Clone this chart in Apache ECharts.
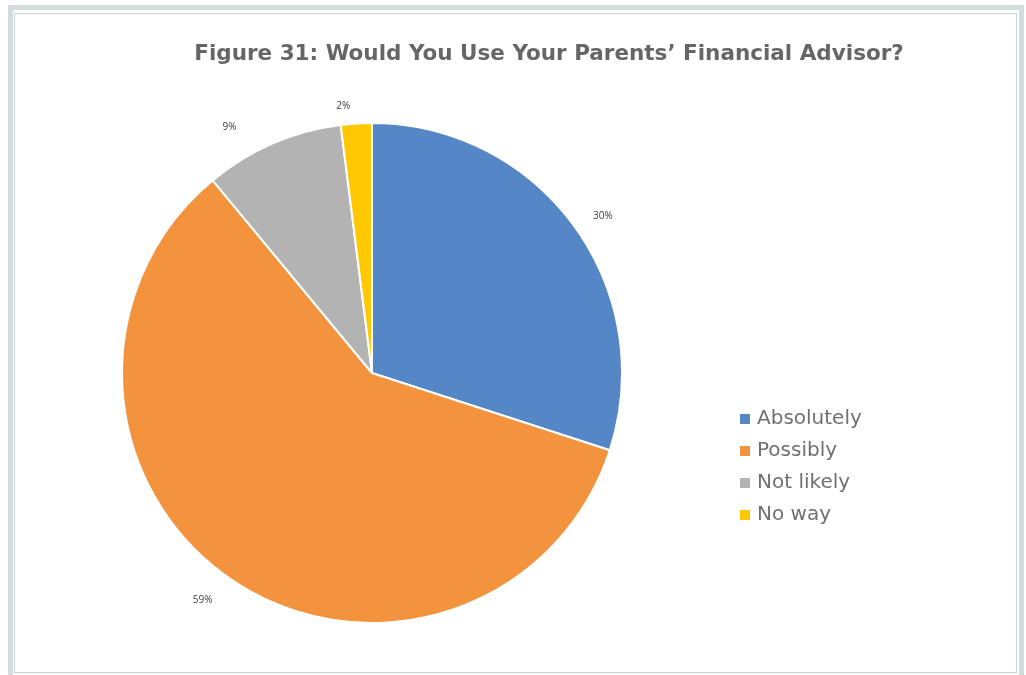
<!DOCTYPE html>
<html>
<head>
<meta charset="utf-8">
<script src="https://cdn.jsdelivr.net/npm/echarts@6/dist/echarts.min.js"></script>
<style>
  html, body { margin: 0; padding: 0; background: #fff; }
  #wrap { position: relative; width: 1026px; height: 675px; overflow: hidden; }
  #outer { position: absolute; left: 8px; top: 5px; width: 1016px; height: 700px; box-sizing: border-box; border: 5px solid #d2dcdc; }
  #inner { position: absolute; left: 14px; top: 13px; width: 1003px; height: 660px; box-sizing: border-box; border: 1.5px solid #c9d5d5; }
  #chart { position: absolute; left: 0; top: 0; width: 1026px; height: 675px; }
</style>
</head>
<body>
<div id="wrap">
  <div id="outer"></div>
  <div id="inner"></div>
  <div id="chart"></div>
</div>
<script>
const titleText = "Figure 31: Would You Use Your Parents\u2019 Financial Advisor?";
const categories = ["Absolutely", "Possibly", "Not likely", "No way"];
const values = [30, 59, 9, 2];
const colors = ["#5586c5", "#f3933e", "#b3b3b3", "#ffc800"];

const chart = echarts.init(document.getElementById('chart'), null, { renderer: 'canvas' });
const itemLabelLines = { "Possibly": { length: 25, length2: 0 }, "Not likely": { length: 18, length2: 24 } };
chart.setOption({
  animation: false,
  backgroundColor: 'transparent',
  color: colors,
  title: {
    text: titleText,
    left: 544, top: 38.5, textAlign: 'center',
    textStyle: { fontFamily: 'DejaVu Sans', fontSize: 21.5, fontWeight: 'bold', color: '#666666' }
  },
  legend: {
    orient: 'vertical',
    left: 738, top: 409, padding: 0,
    itemWidth: 12, itemHeight: 12, itemGap: 12,
    icon: 'rect',
    data: categories,
    textStyle: { fontFamily: 'DejaVu Sans', fontSize: 20, fontWeight: 'normal', color: '#707070', padding: [0, 0, 0, 1] }
  },
  series: [{
    type: 'pie',
    center: [372, 373],
    radius: [0, 250],
    startAngle: 90,
    clockwise: true,
    avoidLabelOverlap: false,
    itemStyle: { borderColor: '#fff', borderWidth: 2 },
    label: {
      show: true, position: 'outside',
      formatter: '{c}%',
      fontFamily: 'Open Sans', fontSize: 10, color: '#404040'
    },
    labelLine: { show: false, length: 17, length2: 0 },
    emphasis: { disabled: true },
    data: categories.map((c, i) => ({
      name: c, value: values[i],
      labelLine: Object.assign({ show: false }, itemLabelLines[c] || {})
    }))
  }]
});
</script>
</body>
</html>
